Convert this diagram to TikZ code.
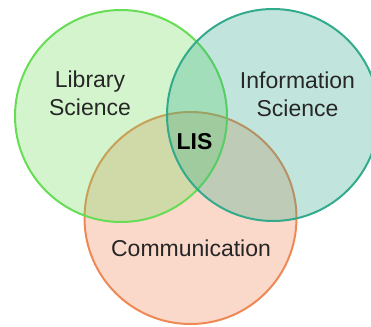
\documentclass[tikz,border=0pt]{standalone}
\usepackage{fontspec}
\setmainfont{Liberation Sans}
\definecolor{gstroke}{RGB}{102,221,85}
\definecolor{gfill}{RGB}{110,220,90}
\definecolor{tstroke}{RGB}{50,170,140}
\definecolor{tfill}{RGB}{50,170,140}
\definecolor{ostroke}{RGB}{238,136,85}
\definecolor{ofill}{RGB}{240,130,80}
\begin{document}
\begin{tikzpicture}[x=1pt,y=-1pt,
  venn/.style={circle, minimum size=212pt, inner sep=0pt, line width=2pt, fill opacity=0.3},
  lbl/.style={inner sep=0pt, align=center, font=\fontsize{23}{28}\selectfont, text=black!85}]
\useasboundingbox (0,0) rectangle (371,326);
\clip (0,0) rectangle (371,326);
\node[venn, draw=ostroke, fill=ofill] (comm) at (190.5,218) {};
\node[venn, draw=gstroke, fill=gfill] (lib) at (121,116) {};
\node[venn, draw=tstroke, fill=tfill] (info) at (273,115) {};
\node[lbl] (tlib) at (90,93.5) {Library\\Science};
\node[lbl] (tinfo) at (297.5,94) {Information\\Science};
\node[lbl, font=\fontsize{23}{28}\selectfont\bfseries, text=black] (tlis) at (194.5,141.5) {LIS};
\node[lbl] (tcomm) at (191,248.5) {Communication};
\end{tikzpicture}
\end{document}
